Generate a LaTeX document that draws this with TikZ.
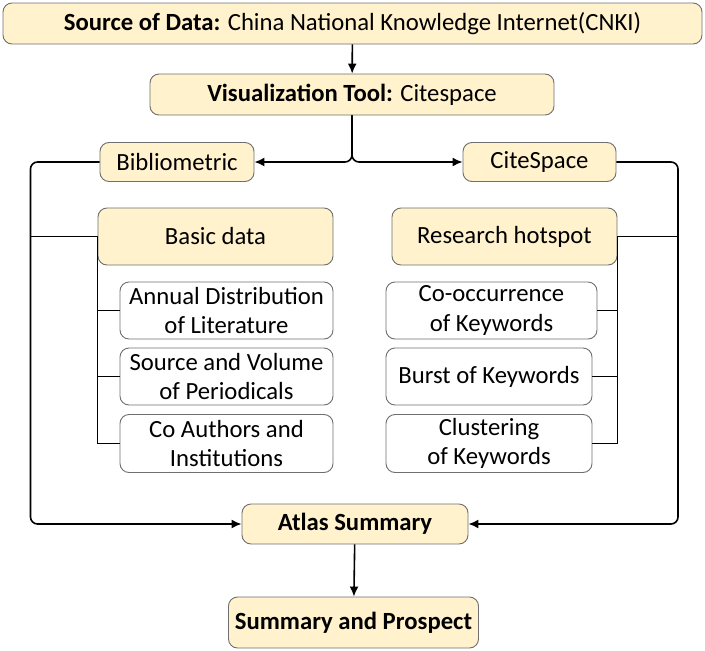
\documentclass[tikz,border=0pt]{standalone}
\usepackage{fontspec}
\setmainfont{Carlito}
\usetikzlibrary{arrows.meta}
\definecolor{boxfill}{HTML}{FFF2CC}
\definecolor{boxline}{HTML}{6F6F6F}
\tikzset{
  box/.style={draw=boxline, line width=0.9pt, rounded corners=9pt, align=center, inner sep=0pt,
    font=\fontsize{24.7}{29.5}\selectfont},
  ybox/.style={box, fill=boxfill},
  wbox/.style={box, fill=white},
  conn/.style={line width=1.6pt, rounded corners=7pt},
  arr/.style={conn, -{Latex[length=10pt,width=9pt]}}
}
\begin{document}
\begin{tikzpicture}[x=1pt,y=-1pt]
\useasboundingbox (0,0) rectangle (705,651);
\node[ybox, minimum width=699pt, minimum height=41pt] (src) at (352.5,23.5) {\textbf{Source of Data:} China National Knowledge Internet(CNKI)};
\node[ybox, minimum width=404pt, minimum height=41pt] (vis) at (352,94.5) {\textbf{Visualization Tool:} Citespace};
\node[ybox, minimum width=154pt, minimum height=39pt] (bib) at (177,162) {Bibliometric};
\node[ybox, minimum width=153pt, minimum height=39pt] (cite) at (539.5,162) {CiteSpace};
\node[ybox, minimum width=235pt, minimum height=57pt] (basic) at (215.5,236.5) {Basic data};
\node[wbox, minimum width=213pt, minimum height=57pt] (annual) at (226.5,310.5) {Annual Distribution\\of Literature};
\node[wbox, minimum width=213pt, minimum height=57pt] (vol) at (226.5,376.5) {Source and Volume\\of Periodicals};
\node[wbox, minimum width=213pt, minimum height=58pt] (coa) at (226.5,443.5) {Co Authors and\\Institutions};
\node[ybox, minimum width=225pt, minimum height=57pt] (res) at (504.5,236.5) {Research hotspot};
\node[wbox, minimum width=211pt, minimum height=57pt] (cooc) at (491.5,310.5) {Co-occurrence\\of Keywords};
\node[wbox, minimum width=206pt, minimum height=57pt] (burst) at (489,376.5) {Burst of Keywords};
\node[wbox, minimum width=206pt, minimum height=58pt] (clust) at (489,443.5) {Clustering\\of Keywords};
\node[ybox, minimum width=226pt, minimum height=40pt] (atlas) at (355,524) {\textbf{Atlas Summary}};
\node[ybox, minimum width=250pt, minimum height=51pt] (sum) at (353.5,622.5) {\textbf{Summary and Prospect}};
\coordinate (lx) at (30.5,0);
\coordinate (rx) at (678,0);
\draw[arr] (src) -- (vis);
\draw[arr] (vis.south) |- (bib.east);
\draw[arr] (vis.south) |- (cite.west);
\draw[arr] (bib.west) -| (lx |- atlas.west) -- (atlas.west);
\draw[arr] (cite.east) -| (rx |- atlas.east) -- (atlas.east);
\draw[conn] (lx |- basic.west) -- (basic.west);
\draw[conn] (rx |- res.east) -- (res.east);
\draw[conn, rounded corners=0pt] (basic.west) |- (annual.west);
\draw[conn, rounded corners=0pt] (basic.west) |- (vol.west);
\draw[conn, rounded corners=0pt] (basic.west) |- (coa.west);
\draw[conn, rounded corners=0pt] (res.east) |- (cooc.east);
\draw[conn, rounded corners=0pt] (res.east) |- (burst.east);
\draw[conn, rounded corners=0pt] (res.east) |- (clust.east);
\draw[arr] (atlas) -- (sum);
\end{tikzpicture}
\end{document}
